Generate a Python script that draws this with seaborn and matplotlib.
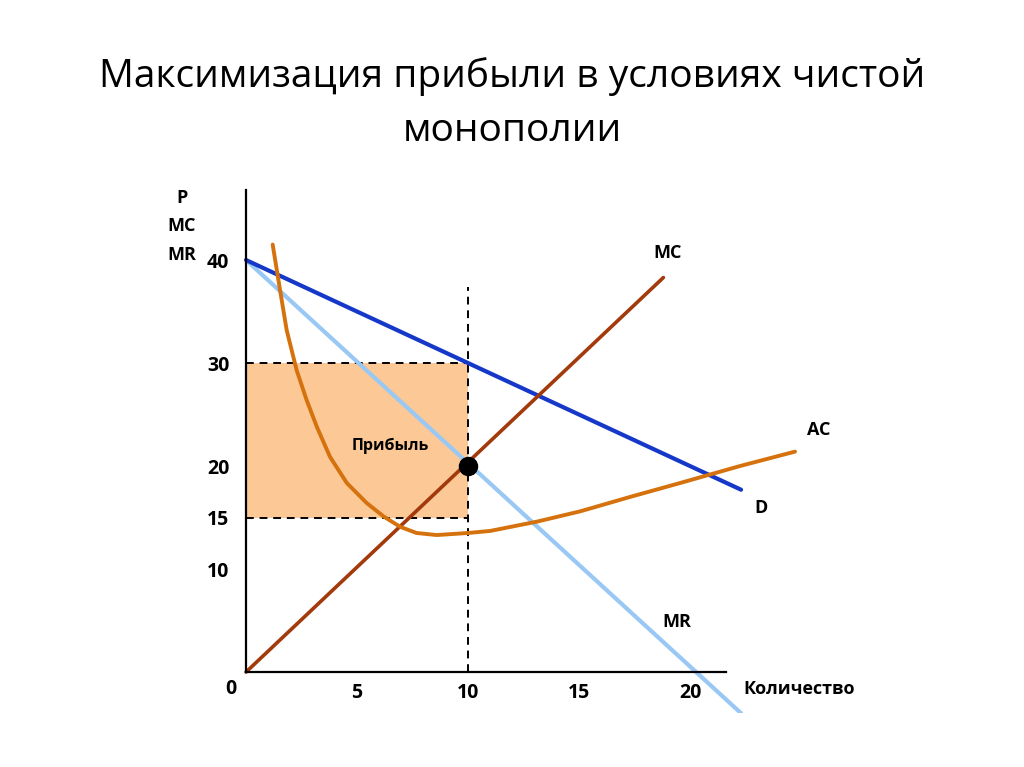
import seaborn as sns
import pandas as pd
import matplotlib.pyplot as plt

# Данные
q_lin = [0, 22.3]
d_vals = [40, 17.7]          # спрос D
mr_vals = [40, -4.0]         # предельный доход MR
q_mc = [0, 18.8]
mc_vals = [0, 38.3]          # предельные издержки MC
q_ac = [1.20, 1.53, 1.83, 2.28, 2.73, 3.19, 3.78, 4.54, 5.44, 6.20, 6.94, 7.68,
        8.59, 10.0, 11.0, 13.1, 15.05, 17.3, 19.55, 22.25, 24.73]
ac_vals = [41.5, 37.1, 33.2, 29.3, 26.4, 23.8, 20.9, 18.35, 16.4, 15.1, 14.1, 13.5,
           13.3, 13.5, 13.7, 14.6, 15.6, 17.0, 18.35, 20.0, 21.4]
q_opt, p_opt, ac_opt, mc_opt = 10, 30, 15, 20
x_ticks = [5, 10, 15, 20]
y_ticks = [10, 15, 20, 30, 40]

sns.set_style('white')
plt.rcParams['font.family'] = ['Open Sans', 'DejaVu Sans']
plt.rcParams['text.color'] = 'black'
plt.rcParams['xtick.color'] = 'black'
plt.rcParams['ytick.color'] = 'black'

fig = plt.figure(figsize=(10.24, 7.67), dpi=100)
ax = fig.add_axes([0.2186, 0.0701, 0.607, 0.6983])

# Прибыль (заштрихованный прямоугольник)
ax.fill_between([0, q_opt], ac_opt, p_opt, color='#fbc896', zorder=1, lw=0)
ax.plot([0, q_opt], [p_opt, p_opt], ls=(0, (4, 3)), color='black', lw=1.4, zorder=2)
ax.plot([0, q_opt], [ac_opt, ac_opt], ls=(0, (4, 3)), color='black', lw=1.4, zorder=2)
ax.plot([q_opt, q_opt], [0, 37.4], ls=(0, (4, 3)), color='black', lw=1.4, zorder=2)

lines = pd.DataFrame({'Q': q_lin, 'D': d_vals, 'MR': mr_vals})
sns.lineplot(data=lines, x='Q', y='MR', color='#99c8f4', lw=3, ax=ax, zorder=3)
sns.lineplot(data=lines, x='Q', y='D', color='#1538c8', lw=3, ax=ax, zorder=4)
sns.lineplot(x=q_mc, y=mc_vals, color='#a33a0c', lw=2.6, ax=ax, zorder=4)
ax.plot(q_ac, ac_vals, color='#d5720e', lw=2.8, zorder=4,
        solid_capstyle='round', solid_joinstyle='round')
ax.plot([q_opt], [mc_opt], 'o', color='black', ms=13, zorder=6)

ax.set_xlim(-1, 27)
ax.set_ylim(-4, 48)
for s in ['top', 'right']:
    ax.spines[s].set_visible(False)
ax.spines['bottom'].set_position(('data', 0))
ax.spines['left'].set_position(('data', 0))
ax.spines['bottom'].set_bounds(0, 21.6)
ax.spines['left'].set_bounds(0, 46.8)
for s in ['bottom', 'left']:
    ax.spines[s].set_color('black')
    ax.spines[s].set_linewidth(1.6)
    ax.spines[s].set_zorder(5)

bold = dict(fontsize=14, fontweight='bold')
lab = dict(fontsize=13, fontweight='bold', ha='center', va='center')
ax.set_xticks(x_ticks)
ax.set_xticklabels([str(t) for t in x_ticks], **bold)
ax.set_yticks(y_ticks)
ax.set_yticklabels([str(t) for t in y_ticks], **bold)
ax.tick_params(axis='x', length=0, pad=8)
ax.tick_params(axis='y', length=0, pad=12)
ax.set_xlabel('')
ax.set_ylabel('')

ax.text(-0.7, -1.6, '0', ha='center', va='center', **bold)
ax.text(-2.9, 46.0, 'P', **lab)
ax.text(-2.9, 43.3, 'MC', **lab)
ax.text(-2.9, 40.5, 'MR', **lab)
ax.text(24.9, -1.6, 'Количество', **lab)
ax.text(19.0, 40.7, 'MC', **lab)
ax.text(25.8, 23.5, 'AC', **lab)
ax.text(23.2, 15.9, 'D', **lab)
ax.text(19.4, 4.9, 'MR', **lab)
ax.text(6.5, 22.0, 'Прибыль', fontsize=11.5, fontweight='bold', ha='center', va='center')

fig.text(0.5, 0.865, 'Максимизация прибыли в условиях чистой\nмонополии',
         ha='center', va='center', fontsize=28, linespacing=1.55)

fig.savefig('out.png', dpi=100)
